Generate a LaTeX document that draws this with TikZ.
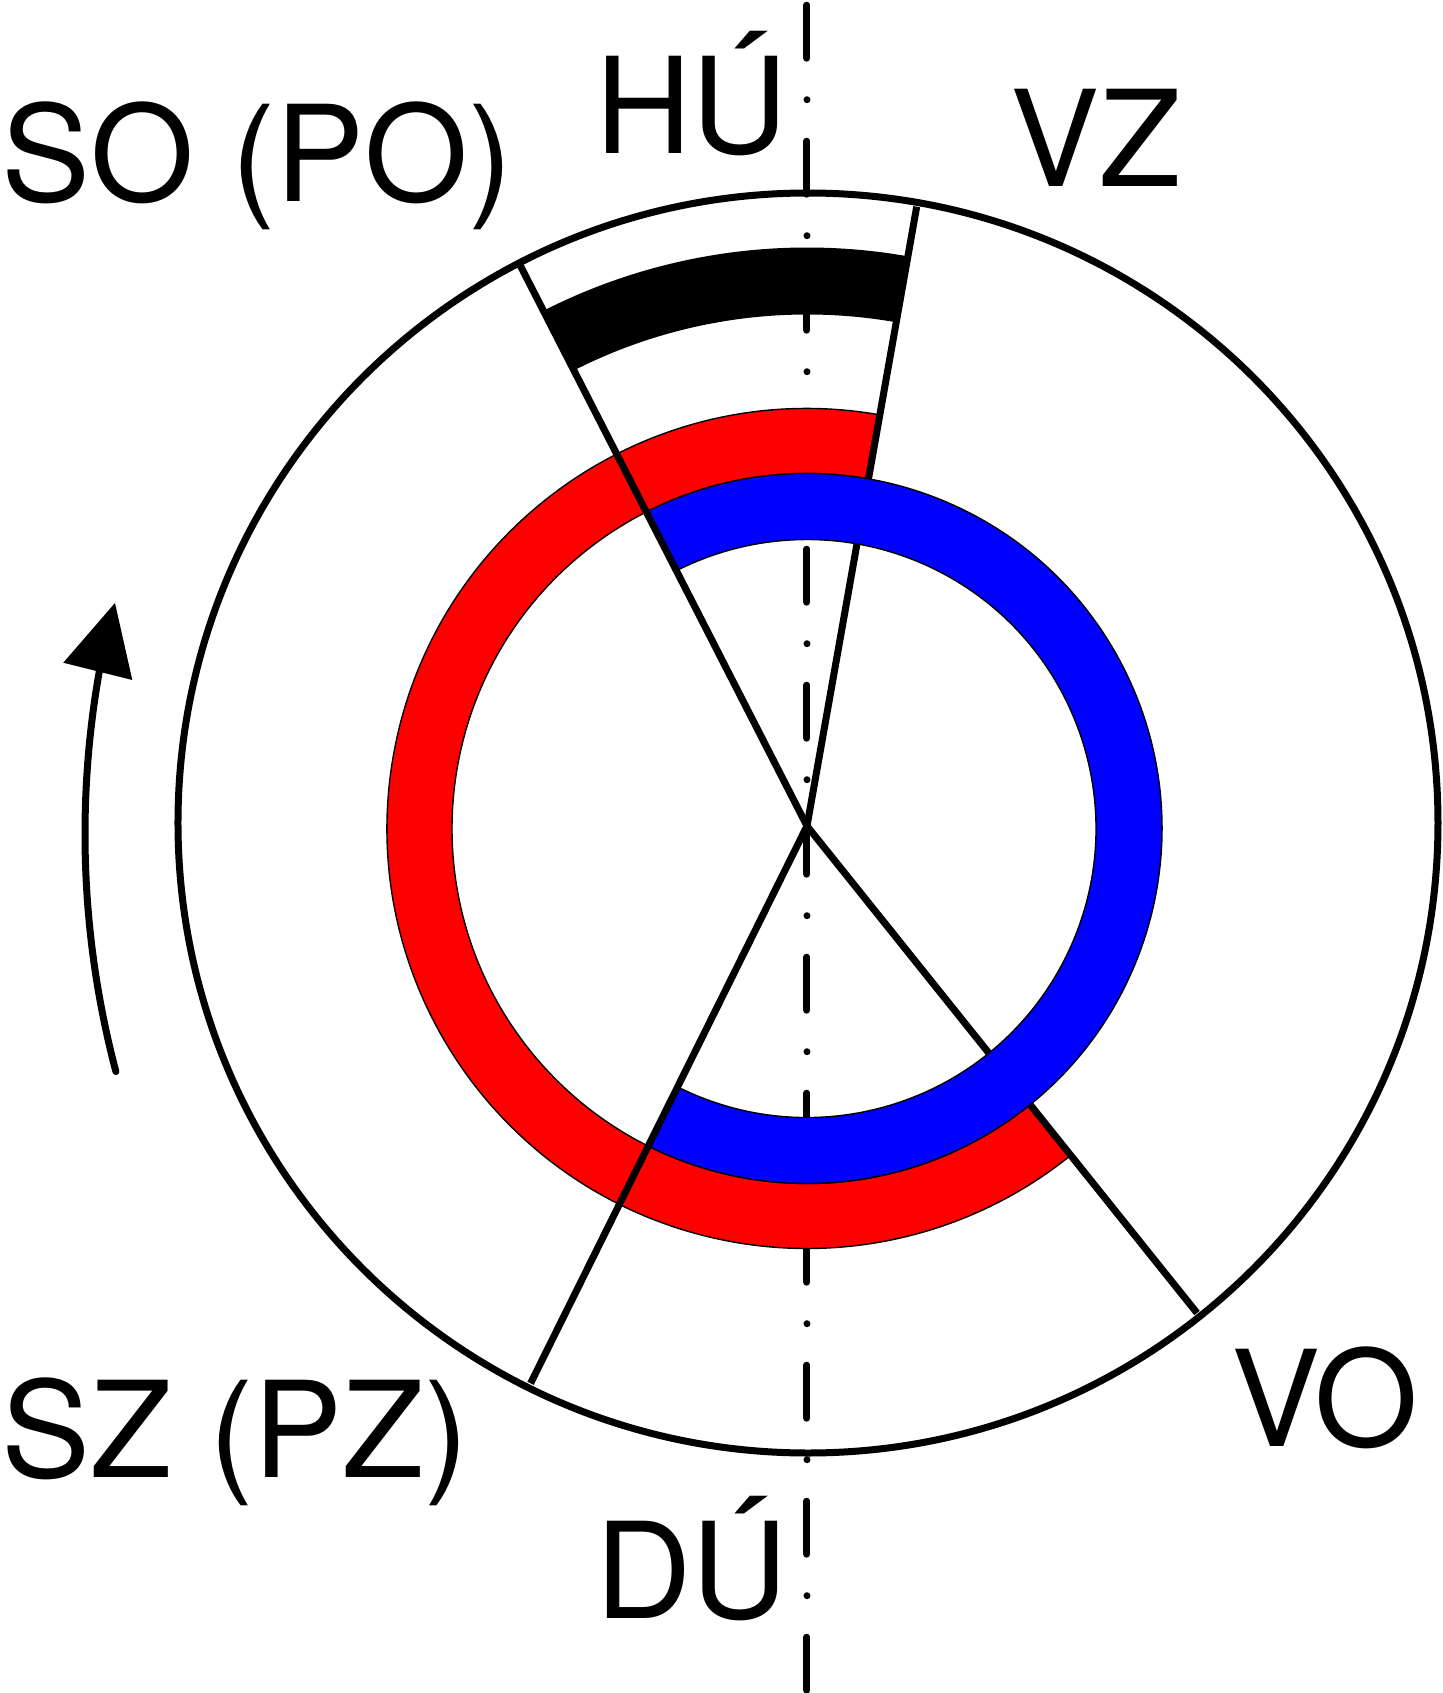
\documentclass[tikz,border=0pt]{standalone}
\usepackage{fontspec}
\setmainfont{TeX Gyre Heros}
\begin{document}
\begin{tikzpicture}[x=0.5pt,y=0.5pt,
  thickline/.style={line width=3.5pt},
  ringedge/.style={draw=black,line width=0.7pt},
  axis/.style={line width=3.5pt,line cap=round,dash pattern=on 26.5pt off 20.75pt on 0pt off 20.75pt},
  lbl/.style={inner sep=0pt,anchor=base,font=\fontsize{66.75pt}{80pt}\selectfont}]
\useasboundingbox (-807,-867) rectangle (636,826);
\coordinate (C) at (0,0);
\coordinate (R) at (0,-2.5);
\coordinate (OC) at (1,3);
\coordinate (axT) at (0,820.8);
\coordinate (axB) at (0,-880);
\coordinate (VZe) at (109.7,619.3);
\coordinate (SOe) at (-287,561);
\coordinate (SZe) at (-276.4,-557.3);
\coordinate (VOe) at (390,-487);
% dash-dot axis
\draw[axis] (axT) -- (axB);
% outer circle
\draw[thickline] (OC) circle[radius=630];
\begin{scope}[shift={(R)}]
  % black band
  \fill[black] (117.1:581) arc[start angle=117.1,end angle=80,radius=581]
     -- (80:514) arc[start angle=80,end angle=117.1,radius=514] -- cycle;
  % red ring
  \filldraw[fill=red,ringedge] (80:420) arc[start angle=80,end angle=308.7,radius=420]
     -- (308.7:355) arc[start angle=308.7,end angle=80,radius=355] -- cycle;
\end{scope}
% radial lines hidden by the blue ring
\draw[thickline] (C) -- (VZe);
\draw[thickline] (C) -- (VOe);
\begin{scope}[shift={(R)}]
  \filldraw[fill=blue,ringedge] (117.1:355) arc[start angle=117.1,end angle=-116.4,radius=355]
     -- (-116.4:289) arc[start angle=-116.4,end angle=117.1,radius=289] -- cycle;
\end{scope}
\draw[thickline] (C) -- (SOe);
\draw[thickline] (C) -- (SZe);
% rotation arrow
\coordinate (AC) at (208,-8);
\coordinate (tipA) at (-692,223);
\coordinate (tipL) at (-743.7,163.3);
\coordinate (tipR) at (-674.7,146);
\draw[thickline,line cap=round] (AC) ++(194.8:930) arc[start angle=194.8,end angle=169,radius=930];
\fill[black] (tipA) -- (tipL) -- (tipR) -- cycle;
% labels
\node[lbl] (so) at (-549.5,624) {SO (PO)};
\node[lbl] (hu) at (-115.5,672) {HÚ};
\node[lbl] (vz) at (289,639) {VZ};
\node[lbl] (sz) at (-571.6,-651) {SZ (PZ)};
\node[lbl] (du) at (-115,-792) {DÚ};
\node[lbl] (vo) at (518,-620) {VO};
\end{tikzpicture}
\end{document}
